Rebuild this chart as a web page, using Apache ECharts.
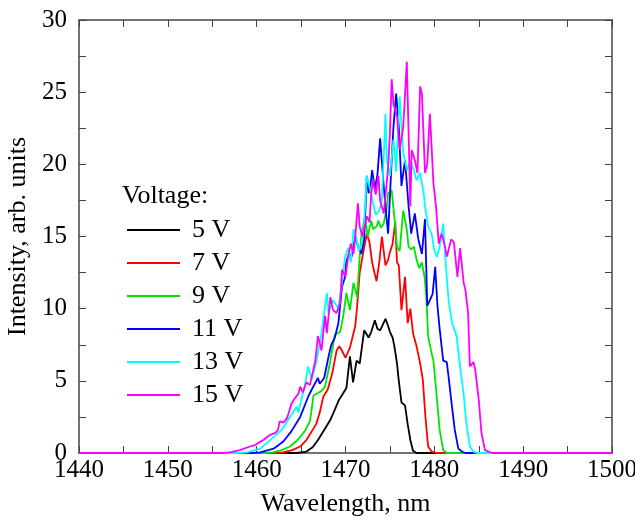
<!DOCTYPE html>
<html>
<head>
<meta charset="utf-8">
<script src="https://cdn.jsdelivr.net/npm/echarts@6/dist/echarts.min.js"></script>
<style>html,body{margin:0;padding:0;background:#fff;}#c{width:635px;height:521px;}</style>
</head>
<body>
<div id="c"></div>
<script>
const xTicks = [1440, 1450, 1460, 1470, 1480, 1490, 1500];
const yTicks = [0, 5, 10, 15, 20, 25, 30];
const seriesNames = ['5 V', '7 V', '9 V', '11 V', '13 V', '15 V'];
const seriesColors = ['#000000', '#ff0000', '#00e600', '#0000ff', '#00ffff', '#ff00ff'];

const v5 = [[1440,0],[1464.5,0],[1465.6,0.1],[1466.3,0.4],[1466.9,0.9],[1467.6,1.6],[1468.3,2.3],[1468.8,3.0],[1469.2,3.6],[1469.7,4.1],[1470.1,4.5],[1470.5,6.7],[1470.85,4.9],[1471.25,6.4],[1471.6,6.2],[1472.1,8.5],[1472.6,8.0],[1472.9,8.4],[1473.3,9.2],[1473.6,8.6],[1473.9,8.5],[1474.2,8.9],[1474.5,9.3],[1474.8,8.8],[1475.0,8.4],[1475.3,8.0],[1475.5,7.4],[1475.8,6.2],[1476.0,5.0],[1476.3,3.5],[1476.7,3.3],[1477.0,2.0],[1477.3,0.9],[1477.6,0.15],[1478.0,0],[1500,0]];

const v7 = [[1440,0],[1462,0],[1463,0.05],[1464,0.2],[1464.9,0.45],[1465.6,0.9],[1466.2,1.5],[1466.7,2.0],[1467.1,2.8],[1467.5,3.9],[1468.0,4.4],[1468.5,5.5],[1469.0,7.1],[1469.3,7.4],[1469.6,7.1],[1470.0,6.6],[1470.5,7.3],[1471.1,8.8],[1471.3,10.1],[1471.6,12.5],[1472.0,13.9],[1472.4,15.2],[1472.7,14.6],[1473.0,13.2],[1473.3,12.4],[1473.5,11.9],[1473.8,13.2],[1474.1,15.0],[1474.5,13.0],[1474.8,13.4],[1475.0,13.9],[1475.3,14.5],[1475.6,16.0],[1475.8,13.2],[1476.0,13.0],[1476.3,9.9],[1476.7,12.2],[1477.0,9.0],[1477.3,10.0],[1477.6,8.3],[1478.0,7.4],[1478.4,6.2],[1478.7,5.1],[1479.0,2.5],[1479.3,0.45],[1479.7,0.1],[1480.2,0],[1500,0]];

const v9 = [[1440,0],[1461,0],[1461.8,0.05],[1462.8,0.2],[1463.75,0.45],[1464.6,0.9],[1465.4,1.5],[1466.0,2.2],[1466.4,4.0],[1466.9,4.15],[1467.3,4.3],[1467.7,4.6],[1468.3,6.4],[1468.8,8.2],[1469.4,8.4],[1469.75,9.5],[1470.1,11.1],[1470.5,9.9],[1470.9,11.8],[1471.3,10.8],[1471.6,13.6],[1471.8,15.2],[1472.2,16.4],[1472.5,15.0],[1472.9,16.1],[1473.1,15.5],[1473.5,15.7],[1473.7,16.1],[1474.0,15.6],[1474.3,15.9],[1474.6,16.8],[1474.8,18.0],[1475.2,18.2],[1475.6,15.7],[1475.8,14.3],[1476.1,14.0],[1476.5,16.8],[1476.9,15.5],[1477.1,14.3],[1477.4,14.1],[1477.7,14.3],[1478.0,13.4],[1478.3,12.8],[1478.6,13.2],[1478.9,12.2],[1479.1,10.8],[1479.3,8.1],[1479.7,6.9],[1479.9,6.4],[1480.3,3.7],[1480.6,1.6],[1481.0,0.2],[1481.4,0],[1500,0]];

const v11 = [[1440,0],[1459.5,0],[1460.4,0.05],[1461.9,0.3],[1463,0.8],[1463.9,1.5],[1464.9,2.5],[1465.8,3.9],[1466.2,4.4],[1466.9,5.2],[1467.1,4.8],[1467.6,5.2],[1468.1,6.7],[1468.4,7.5],[1468.8,8.0],[1469.2,9.0],[1469.6,11.5],[1469.95,12.2],[1470.1,13.3],[1470.4,13.8],[1470.7,13.6],[1471.1,15.0],[1471.4,14.3],[1471.8,13.8],[1472.1,14.8],[1472.4,19.2],[1472.6,18.0],[1472.8,18.5],[1473.0,19.6],[1473.3,18.3],[1473.6,19.3],[1473.9,21.8],[1474.3,18.5],[1474.6,16.4],[1474.8,15.2],[1475.2,20.3],[1475.4,22.6],[1475.7,24.9],[1476.0,22.6],[1476.3,18.5],[1476.7,20.3],[1477.1,17.1],[1477.4,15.2],[1477.8,16.6],[1478.2,14.8],[1478.6,13.8],[1478.95,16.2],[1479.2,10.2],[1479.5,10.6],[1479.8,11.0],[1480.1,12.9],[1480.35,10.2],[1480.6,8.6],[1481.0,6.4],[1481.4,6.3],[1481.6,5.3],[1481.95,3.4],[1482.3,1.6],[1482.7,0.3],[1483.1,0.1],[1483.5,0],[1500,0]];

const v13 = [[1440,0],[1458,0],[1458.9,0.05],[1460.4,0.3],[1461.9,1.1],[1462.8,1.6],[1463.75,2.5],[1464.5,3.2],[1464.7,2.8],[1465.1,3.9],[1465.4,4.6],[1465.8,6.0],[1466.2,5.1],[1466.75,6.4],[1467.3,8.3],[1467.9,11.1],[1468.1,9.7],[1468.6,10.6],[1469.2,10.0],[1469.6,11.8],[1469.95,13.6],[1470.3,14.2],[1470.6,13.2],[1470.9,15.5],[1471.1,15.2],[1471.5,14.0],[1471.8,14.5],[1472.1,16.0],[1472.4,19.2],[1472.7,18.5],[1473.1,17.3],[1473.4,16.5],[1473.8,16.8],[1474.1,17.5],[1474.5,23.5],[1474.65,20.3],[1475.0,19.2],[1475.4,21.7],[1475.7,19.5],[1476.1,24.7],[1476.5,20.8],[1476.9,19.6],[1477.3,20.2],[1477.7,19.6],[1478.0,18.9],[1478.4,19.4],[1478.8,18.0],[1478.95,17.1],[1479.3,15.7],[1479.7,15.2],[1480.0,14.0],[1480.3,13.6],[1480.6,14.3],[1481.0,15.9],[1481.2,13.8],[1481.6,10.6],[1482.0,9.0],[1482.5,8.1],[1482.9,6.0],[1483.3,4.1],[1483.6,2.1],[1484.0,0.45],[1484.4,0.1],[1484.8,0],[1500,0]];

const v15 = [[1440,0],[1456,0],[1457,0.05],[1458.1,0.2],[1459.25,0.45],[1459.8,0.55],[1460.2,0.7],[1460.75,0.9],[1461.5,1.25],[1462.1,1.4],[1462.4,1.6],[1462.6,2.2],[1463.0,2.1],[1463.4,2.4],[1463.6,2.75],[1463.9,3.4],[1464.3,3.8],[1464.7,4.1],[1464.9,4.6],[1465.2,4.2],[1465.6,4.9],[1466.0,4.7],[1466.6,6.4],[1466.9,8.1],[1467.3,7.1],[1467.7,9.5],[1467.9,8.3],[1468.3,10.8],[1468.6,9.9],[1469.0,9.7],[1469.4,10.4],[1469.6,12.7],[1470.0,12.2],[1470.3,13.6],[1470.6,14.5],[1470.9,13.8],[1471.1,15.0],[1471.4,17.3],[1471.6,15.7],[1471.9,15.0],[1472.4,16.4],[1472.7,16.0],[1472.9,18.0],[1473.1,18.9],[1473.4,17.9],[1473.7,19.2],[1473.9,17.5],[1474.3,16.6],[1474.5,17.8],[1474.8,19.8],[1475.0,22.2],[1475.2,25.9],[1475.4,24.2],[1475.8,23.3],[1476.1,21.0],[1476.5,22.6],[1476.9,27.1],[1477.1,22.2],[1477.3,17.1],[1477.45,21.0],[1477.8,20.3],[1478.1,19.4],[1478.4,25.4],[1478.6,24.9],[1478.95,19.4],[1479.2,20.0],[1479.5,23.5],[1479.9,18.7],[1480.2,17.0],[1480.5,14.5],[1480.8,15.2],[1481.2,14.3],[1481.4,13.6],[1481.9,14.8],[1482.2,14.6],[1482.6,12.2],[1482.9,14.2],[1483.3,11.8],[1483.5,11.3],[1483.8,9.7],[1484.0,6.0],[1484.4,6.3],[1484.6,5.8],[1485.0,3.7],[1485.3,1.4],[1485.7,0.2],[1486.1,0.1],[1486.5,0],[1500,0]];

const allData = [v5, v7, v9, v11, v13, v15];

const FONT = '"Liberation Serif", "Times New Roman", serif';
const FS = 26;
const TFS = 25;
const axisColor = '#444';

const chart = echarts.init(document.getElementById('c'), null, {renderer: 'canvas'});

function xAxisCfg(pos, showLabels) {
  return {
    type: 'value', position: pos,
    min: xTicks[0], max: xTicks[xTicks.length - 1], interval: xTicks[1] - xTicks[0],
    name: showLabels ? 'Wavelength, nm' : '',
    nameLocation: 'middle', nameGap: 38,
    nameTextStyle: {fontFamily: FONT, fontSize: FS, color: '#000'},
    axisLine: {show: true, onZero: false, lineStyle: {color: axisColor, width: 1.5}},
    axisTick: {show: true, inside: true, length: 7, lineStyle: {color: axisColor, width: 1}},
    minorTick: {show: true, splitNumber: 2, length: 7, lineStyle: {color: axisColor, width: 1}},
    axisLabel: {show: showLabels, fontFamily: FONT, fontSize: TFS, color: '#000', margin: 5,
      formatter: v => String(v)},
    splitLine: {show: false}
  };
}
function yAxisCfg(pos, showLabels) {
  return {
    type: 'value', position: pos,
    min: yTicks[0], max: yTicks[yTicks.length - 1], interval: yTicks[1] - yTicks[0],
    name: showLabels ? 'Intensity, arb. units' : '',
    nameLocation: 'middle', nameGap: 43,
    nameTextStyle: {fontFamily: FONT, fontSize: FS, color: '#000'},
    axisLine: {show: true, onZero: false, lineStyle: {color: axisColor, width: 1.5}},
    axisTick: {show: true, inside: true, length: 7, lineStyle: {color: axisColor, width: 1}},
    minorTick: {show: true, splitNumber: 2, length: 7, lineStyle: {color: axisColor, width: 1}},
    axisLabel: {show: showLabels, fontFamily: FONT, fontSize: TFS, color: '#000', margin: 12,
      formatter: v => String(v)},
    splitLine: {show: false}
  };
}

chart.setOption({
  animation: false,
  backgroundColor: '#fff',
  grid: {left: 79, right: 23, top: 20, bottom: 68, containLabel: false, outerBoundsMode: 'none'},
  title: {
    text: 'Voltage:', left: 122, top: 183, padding: 0,
    textStyle: {fontFamily: FONT, fontSize: FS, fontWeight: 'normal', color: '#000'}
  },
  legend: {
    orient: 'vertical', left: 127, top: 217, padding: 0,
    icon: 'rect', itemWidth: 53, itemHeight: 2, itemGap: 7,
    data: seriesNames,
    textStyle: {fontFamily: FONT, fontSize: FS, color: '#000', lineHeight: 26, padding: [0, 0, 0, 7]}
  },
  xAxis: [xAxisCfg('bottom', true), xAxisCfg('top', false)],
  yAxis: [yAxisCfg('left', true), yAxisCfg('right', false)],
  series: allData.map((d, i) => ({
    name: seriesNames[i], type: 'line', data: d,
    xAxisIndex: 0, yAxisIndex: 0,
    showSymbol: false, symbol: 'none',
    color: seriesColors[i],
    lineStyle: {width: 1.8, color: seriesColors[i]},
    z: 2 + i
  }))
});
</script>
</body>
</html>
